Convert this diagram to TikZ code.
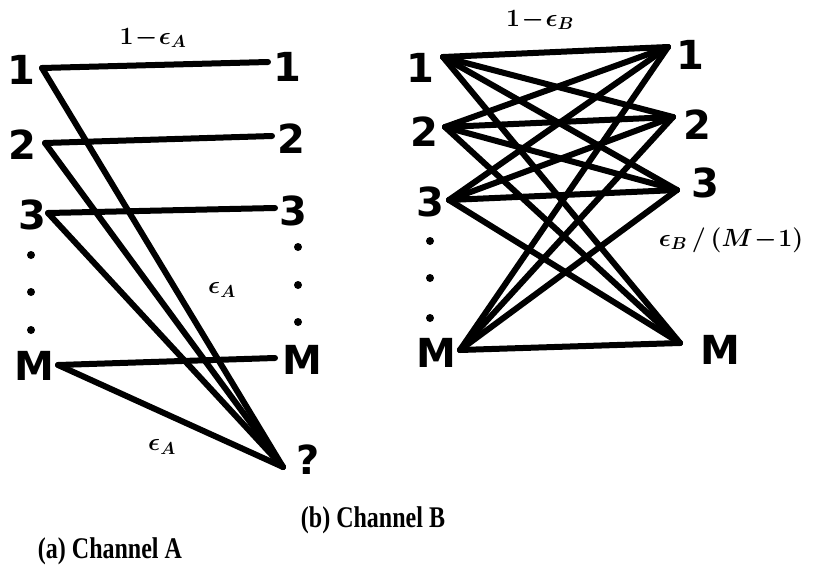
\documentclass[tikz,border=0pt]{standalone}
\usepackage{fontspec}
\usepackage{graphicx}
\setmainfont{Liberation Serif}
\setsansfont{DejaVu Sans}
\begin{document}
\begin{tikzpicture}[x=1pt,y=-1pt,
  edge/.style={line width=6pt,line cap=round,line join=round},
  lbl/.style={font=\fontsize{40}{40}\selectfont\sffamily\bfseries,inner sep=0pt},
  prob/.style={font=\fontsize{25}{25}\selectfont\boldmath,inner sep=0pt},
  captxt/.style={font=\fontsize{30}{30}\selectfont\bfseries,inner sep=0pt},
  dotc/.style={fill=black,circle,inner sep=0pt,minimum size=8pt}]
\useasboundingbox (0,0) rectangle (820,581);
% ---------- Channel A ----------
\coordinate (aL1) at (42,68);
\coordinate (aL2) at (45,143);
\coordinate (aL3) at (48,213);
\coordinate (aLM) at (58,365);
\coordinate (aR1) at (268,62);
\coordinate (aR2) at (272,136);
\coordinate (aR3) at (275,208);
\coordinate (aRM) at (275,358);
\coordinate (aQ) at (283,467);
\node[lbl] (laL1) at (21,70) {1};
\node[lbl] (laL2) at (22,145) {2};
\node[lbl] (laL3) at (32,215) {3};
\node[lbl] (laLM) at (34,366) {M};
\node[lbl] (laR1) at (287,67) {1};
\node[lbl] (laR2) at (291,139) {2};
\node[lbl] (laR3) at (293,211) {3};
\node[lbl] (laRM) at (302,360) {M};
\node[lbl] (laQ) at (308,460) {?};
\foreach \y [count=\i] in {255,292,330}{\node[dotc] (daL\i) at (31,\y) {};}
\foreach \y [count=\i] in {247,285,322}{\node[dotc] (daR\i) at (298,\y) {};}
\foreach \s in {1,2,3,M}{\draw[edge] (aL\s) -- (aR\s); \draw[edge] (aL\s) -- (aQ);}
\node[prob] (pa1) at (153,38) {$1\!-\!\epsilon_{A}$};
\node[prob] (pa2) at (222,290) {$\epsilon_{A}$};
\node[prob] (pa3) at (162,447) {$\epsilon_{A}$};
% ---------- Channel B ----------
\coordinate (bL1) at (443,57);
\coordinate (bL2) at (445,127);
\coordinate (bL3) at (449,200);
\coordinate (bLM) at (460,350);
\coordinate (bR1) at (668,47);
\coordinate (bR2) at (673,117);
\coordinate (bR3) at (677,190);
\coordinate (bRM) at (680,343);
\node[lbl] (lbL1) at (420,68) {1};
\node[lbl] (lbL2) at (424,132) {2};
\node[lbl] (lbL3) at (430,202) {3};
\node[lbl] (lbLM) at (436,353) {M};
\node[lbl] (lbR1) at (690,55) {1};
\node[lbl] (lbR2) at (697,125) {2};
\node[lbl] (lbR3) at (705,183) {3};
\node[lbl] (lbRM) at (720,350) {M};
\foreach \y [count=\i] in {241,278,318}{\node[dotc] (dbL\i) at (430,\y) {};}
\foreach \s in {1,2,3,M}{\foreach \t in {1,2,3,M}{\draw[edge] (bL\s) -- (bR\t);}}
\node[prob] (pb1) at (540,20) {$1\!-\!\epsilon_{B}$};
\node[prob,font=\fontsize{27}{27}\selectfont\boldmath] (pb2) at (731,240) {$\epsilon_{B}\,/\,(M\!-\!1)$};
% ---------- Captions ----------
\node[captxt] (capA) at (110,551) {\scalebox{0.8}[1]{(a) Channel A}};
\node[captxt] (capB) at (373,520) {\scalebox{0.8}[1]{(b) Channel B}};
\end{tikzpicture}
\end{document}
